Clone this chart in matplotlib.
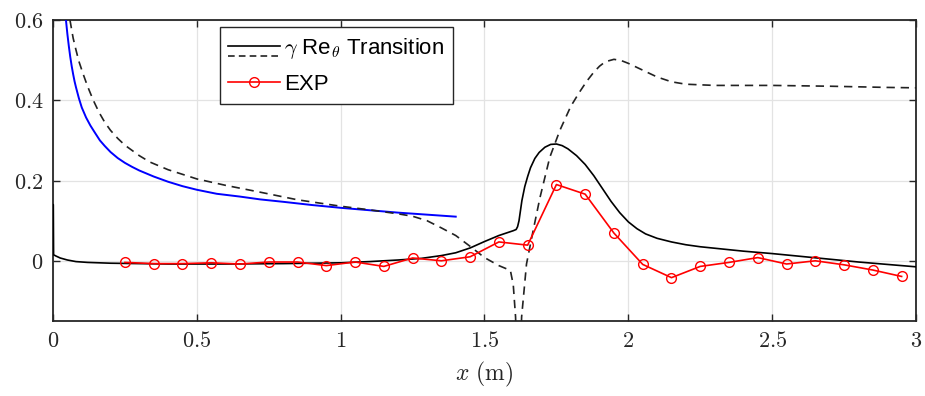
import matplotlib
matplotlib.use("Agg")
import matplotlib.pyplot as plt
from matplotlib.lines import Line2D
from matplotlib.legend_handler import HandlerBase
from matplotlib.ticker import FuncFormatter

plt.rcParams['mathtext.fontset'] = 'cm'
plt.rcParams['font.family'] = ['Liberation Sans', 'DejaVu Sans']

# ---- data ----
# gamma-Re_theta transition model (solid)
trans_x = [0.0, 0.001, 0.002, 0.01, 0.025, 0.05, 0.08, 0.12, 0.2, 0.4, 0.6, 0.8, 1.0, 1.1,
           1.2, 1.28, 1.35, 1.4, 1.45, 1.5, 1.55, 1.6, 1.61, 1.615, 1.62, 1.625, 1.63,
           1.64, 1.65, 1.66, 1.675, 1.69, 1.71, 1.73, 1.75, 1.77, 1.79, 1.82, 1.85, 1.88,
           1.91, 1.94, 1.97, 2.0, 2.03, 2.06, 2.1, 2.15, 2.2, 2.25, 2.4, 2.5, 2.6, 2.7,
           2.8, 2.9, 3.0]
trans_y = [0.14, 0.14, 0.015, 0.012, 0.007, 0.002, -0.002, -0.004, -0.006, -0.008, -0.008,
           -0.007, -0.005, -0.002, 0.002, 0.006, 0.013, 0.02, 0.032, 0.048, 0.063, 0.075,
           0.078, 0.085, 0.1, 0.125, 0.15, 0.185, 0.21, 0.232, 0.255, 0.27, 0.283, 0.29,
           0.291, 0.287, 0.279, 0.262, 0.24, 0.212, 0.18, 0.148, 0.12, 0.097, 0.08, 0.067,
           0.056, 0.047, 0.04, 0.035, 0.024, 0.018, 0.011, 0.004, -0.003, -0.009, -0.015]

# second transition-model quantity (dashed)
dash_x = [0.059, 0.065, 0.07, 0.08, 0.09, 0.105, 0.12, 0.14, 0.16, 0.18, 0.2, 0.225, 0.25,
          0.3, 0.337, 0.4, 0.5, 0.6, 0.72, 0.85, 1.0, 1.1, 1.2, 1.25, 1.3, 1.35, 1.4, 1.45,
          1.5, 1.55, 1.59, 1.6, 1.608, 1.615, 1.622, 1.629, 1.646, 1.669, 1.693, 1.727,
          1.762, 1.8, 1.83, 1.855, 1.88, 1.9, 1.92, 1.95, 1.975, 2.0, 2.05, 2.1, 2.15,
          2.2, 2.3, 2.5, 2.7, 2.9, 3.0]
dash_y = [0.6, 0.575, 0.555, 0.525, 0.497, 0.465, 0.435, 0.4, 0.37, 0.345, 0.325, 0.305,
          0.288, 0.262, 0.246, 0.227, 0.204, 0.188, 0.171, 0.152, 0.136, 0.127, 0.117,
          0.111, 0.1, 0.082, 0.063, 0.036, 0.008, -0.012, -0.024, -0.06, -0.14, -0.3,
          -0.3, -0.14, -0.008, 0.075, 0.158, 0.258, 0.325, 0.385, 0.42, 0.447, 0.47, 0.485,
          0.496, 0.502, 0.499, 0.492, 0.475, 0.458, 0.446, 0.44, 0.437, 0.437, 0.435,
          0.432, 0.431]

# laminar reference (blue)
lam_x = [0.045, 0.05, 0.055, 0.06, 0.065, 0.07, 0.075, 0.08, 0.09, 0.1, 0.115, 0.13, 0.145,
         0.163, 0.18, 0.2, 0.225, 0.25, 0.275, 0.3, 0.35, 0.4, 0.45, 0.5, 0.569, 0.65,
         0.72, 0.8, 0.9, 1.0, 1.1, 1.2, 1.3, 1.4]
lam_y = [0.6, 0.565, 0.535, 0.508, 0.485, 0.465, 0.447, 0.432, 0.405, 0.382, 0.357, 0.337,
         0.32, 0.3, 0.286, 0.271, 0.256, 0.244, 0.234, 0.225, 0.21, 0.197, 0.186,
         0.177, 0.167, 0.16, 0.153, 0.147, 0.139, 0.132, 0.126, 0.12, 0.115, 0.11]

# experiment
exp_x = [0.25, 0.35, 0.45, 0.55, 0.65, 0.75, 0.85, 0.95, 1.05, 1.15, 1.25, 1.35, 1.45,
         1.55, 1.65, 1.75, 1.85, 1.95, 2.05, 2.15, 2.25, 2.35, 2.45, 2.55, 2.65, 2.75,
         2.85, 2.95]
exp_y = [-0.004, -0.007, -0.007, -0.005, -0.008, -0.003, -0.003, -0.012, -0.003, -0.014,
         0.007, 0.0, 0.01, 0.047, 0.039, 0.19, 0.166, 0.069, -0.009, -0.042, -0.014,
         -0.004, 0.008, -0.008, 0.0, -0.01, -0.023, -0.039]

xticks = [0, 0.5, 1, 1.5, 2, 2.5, 3]
yticks = [0, 0.2, 0.4, 0.6]
trans_label = r'$\gamma$ Re$_\theta$ Transition'
exp_label = 'EXP'
xlabel = r'$x\ (\mathrm{m})$'

# ---- figure ----
fig = plt.figure(figsize=(9.25, 3.96), dpi=100)
ax = fig.add_axes([53/925, 1-321/396, (916-53)/925, (321-20)/396])

ax.plot(lam_x, lam_y, color='#0000ff', lw=1.4, zorder=3)
l_dash, = ax.plot(dash_x, dash_y, color='#222222', lw=1.2, ls=(0, (5, 3.5)), zorder=3)
l_solid, = ax.plot(trans_x, trans_y, color='black', lw=1.2, zorder=4)
l_exp, = ax.plot(exp_x, exp_y, color='#ff0000', lw=1.2, marker='o', ms=7,
                 mfc='none', mec='#ff0000', mew=1.0, zorder=5)

ax.set_xlim(0, 3)
ax.set_ylim(-0.15, 0.6)
ax.set_xticks(xticks)
ax.set_yticks(yticks)
fmt = FuncFormatter(lambda v, p: r'$%g$' % v)
ax.xaxis.set_major_formatter(fmt)
ax.yaxis.set_major_formatter(fmt)
ax.tick_params(direction='in', length=5, width=1.0, top=True, right=True,
               labelsize=16, labelcolor='#262626', color='#262626', pad=7)
ax.grid(True, color='#e3e3e3', lw=0.9)
ax.set_axisbelow(True)
for s in ax.spines.values():
    s.set_color('#262626')
    s.set_linewidth(1.3)
ax.set_xlabel(xlabel, fontsize=17, color='#262626', labelpad=6)


class TwoLineHandler(HandlerBase):
    def create_artists(self, legend, orig_handle, xdescent, ydescent, width, height,
                       fontsize, trans):
        y1 = 0.5 * height - ydescent
        y2 = -0.15 * height - ydescent
        a = Line2D([-xdescent, width - xdescent], [y1, y1], color='black', lw=1.2)
        b = Line2D([-xdescent, width - xdescent], [y2, y2], color='#222222', lw=1.2,
                   ls=(0, (4, 2.5)))
        for art in (a, b):
            art.set_transform(trans)
        return [a, b]


leg = ax.legend([(l_solid, l_dash), l_exp], [trans_label, exp_label],
                handler_map={tuple: TwoLineHandler()},
                loc='upper left', bbox_to_anchor=(0.193, 0.977), fontsize=16,
                frameon=True, fancybox=False, edgecolor='#262626', framealpha=1,
                handlelength=2.3, handletextpad=0.2, borderpad=0.4, labelspacing=0.6,
                borderaxespad=0)
leg.get_frame().set_linewidth(1.0)

fig.savefig('out.png', dpi=100)
